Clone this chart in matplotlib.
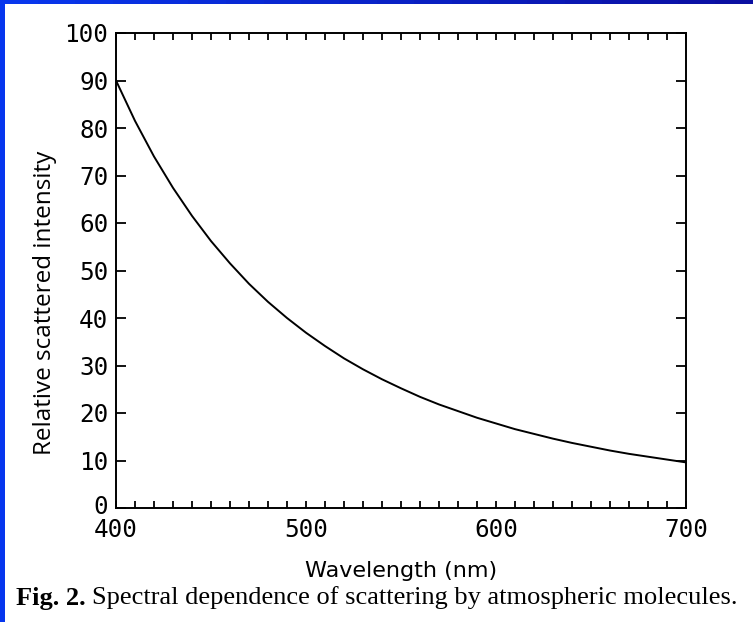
import matplotlib
matplotlib.use("Agg")
import matplotlib.pyplot as plt
import matplotlib.transforms as mtransforms
from matplotlib.patches import Rectangle
from matplotlib.ticker import MultipleLocator

wavelength = [400, 410, 420, 430, 440, 450, 460, 470, 480, 490, 500,
              510, 520, 530, 540, 550, 560, 570, 580, 590, 600,
              610, 620, 630, 640, 650, 660, 670, 680, 690, 700]
intensity = [90.0, 81.5, 74.0, 67.4, 61.5, 56.2, 51.5, 47.2, 43.4, 40.0, 36.9,
             34.1, 31.5, 29.2, 27.1, 25.2, 23.4, 21.8, 20.4, 19.0, 17.8,
             16.6, 15.6, 14.6, 13.7, 12.9, 12.1, 11.4, 10.8, 10.2, 9.6]
x_ticks = [400, 500, 600, 700]
y_ticks = [0, 10, 20, 30, 40, 50, 60, 70, 80, 90, 100]

fig = plt.figure(figsize=(7.53, 6.22), dpi=100)
W, H = 753, 622

# blue frame strips (left bright, top darkening to the right)
fig.patches.append(Rectangle((0, 0), 5 / W, 1, transform=fig.transFigure,
                             facecolor="#0636ee", edgecolor="none", zorder=0))
n = 20
c0 = (0.03, 0.21, 0.93)
c1 = (0.04, 0.06, 0.63)
for i in range(n):
    f = i / (n - 1)
    col = tuple(c0[k] + (c1[k] - c0[k]) * f for k in range(3))
    fig.patches.append(Rectangle((i / n, 1 - 4 / H), 1 / n + 0.001, 4 / H,
                                 transform=fig.transFigure,
                                 facecolor=col, edgecolor="none", zorder=0))

ax = fig.add_axes([116 / W, (622 - 508) / H, 570 / W, 475 / H])
ax.plot(wavelength, intensity, color="black", lw=1.4)
ax.set_xlim(400, 700)
ax.set_ylim(0, 100)
ax.set_xticks(x_ticks)
ax.set_yticks(y_ticks)
ax.xaxis.set_minor_locator(MultipleLocator(10))
ax.tick_params(axis="both", which="both", direction="in", top=True, right=True,
               width=1.3, colors="black")
ax.tick_params(axis="x", which="major", length=5, pad=7)
ax.tick_params(axis="x", which="minor", length=5)
ax.tick_params(axis="y", which="major", length=7, pad=5.5)
for lab in ax.get_xticklabels() + ax.get_yticklabels():
    lab.set_family("DejaVu Sans Mono")
    lab.set_fontsize(17.5)
for s in ax.spines.values():
    s.set_linewidth(1.4)

# nudge the "0" label slightly up so it sits just above "400"
ylabs = ax.get_yticklabels()
ylabs[0].set_transform(ylabs[0].get_transform() +
                       mtransforms.ScaledTranslation(0, 2.5 / 72, fig.dpi_scale_trans))

ax.set_xlabel("Wavelength (nm)", fontsize=16, family="DejaVu Sans")
ax.xaxis.set_label_coords(0.5, -(571 - 508) / 475, transform=ax.transAxes)
ax.xaxis.label.set_va("center")
ax.set_ylabel("Relative scattered intensity", fontsize=17.5, family="Open Sans")
ax.yaxis.set_label_coords((45 - 116) / 570, (508 - 303) / 475, transform=ax.transAxes)
ax.yaxis.label.set_va("center")

# caption
t1 = fig.text(16 / W, 1 - 598 / H, "Fig. 2.", fontsize=19, family="Liberation Serif",
              fontweight="bold", va="center", ha="left")
fig.canvas.draw()
r = fig.canvas.get_renderer()
bb = t1.get_window_extent(renderer=r)
fig.text((bb.x1 + 6) / W, 1 - 598 / H,
         "Spectral dependence of scattering by atmospheric molecules.",
         fontsize=19, family="Liberation Serif", va="center", ha="left")

fig.savefig("out.png", dpi=100)
